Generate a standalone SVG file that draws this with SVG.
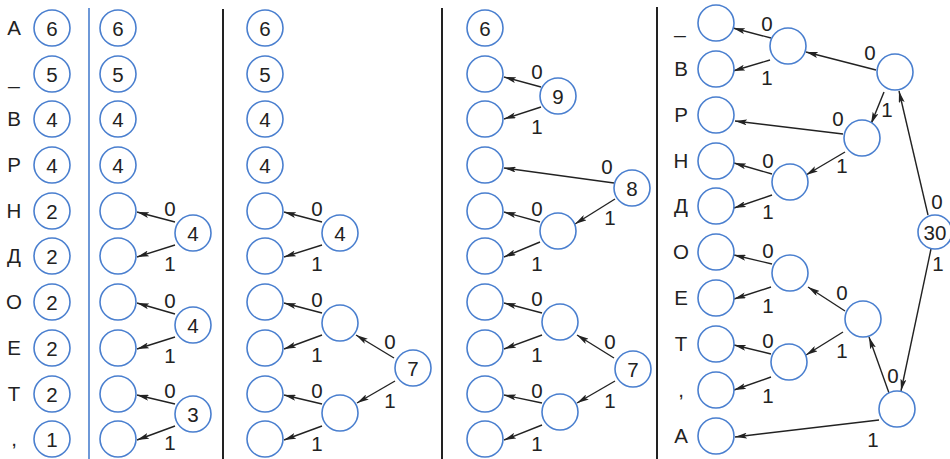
<svg xmlns="http://www.w3.org/2000/svg" width="950" height="459" viewBox="0 0 950 459">
<style>
.n{fill:#fff;stroke:#4a7fcf;stroke-width:1.6}
.t{font-family:"Liberation Sans",Arial,sans-serif;font-size:20.5px;fill:#222;text-anchor:middle}
.e{stroke:#222;stroke-width:1.4;fill:none;marker-end:url(#ah)}
.sep{stroke:#222;stroke-width:2}
</style>
<defs>
<marker id="ah" viewBox="0 0 12 6" refX="12" refY="3" markerWidth="12" markerHeight="6" markerUnits="userSpaceOnUse" orient="auto">
<path d="M0,0 L12,3 L0,6 L2.5,3 Z" fill="#222"/>
</marker>
</defs>
<rect width="950" height="459" fill="#fff"/>
<g id="separators">
<line x1="89" y1="8" x2="89" y2="459" stroke="#4a7fcf" stroke-width="1.6"/>
<line class="sep" x1="223" y1="9" x2="223" y2="459"/>
<line class="sep" x1="442" y1="8" x2="442" y2="459"/>
<line class="sep" x1="657" y1="7" x2="657" y2="459"/>
</g>
<g id="letters-1">
<text class="t" x="14" y="35">А</text>
<text class="t" x="14" y="84">_</text>
<text class="t" x="14" y="126">В</text>
<text class="t" x="14" y="172">Р</text>
<text class="t" x="14" y="218">Н</text>
<text class="t" x="14" y="263">Д</text>
<text class="t" x="14" y="309">О</text>
<text class="t" x="14" y="355">Е</text>
<text class="t" x="14" y="401">Т</text>
<text class="t" x="14" y="446">,</text>
</g>
<g id="p1">
<g id="p1-0"><circle class="n" cx="52" cy="28" r="18"/><text class="t" x="52" y="35.5">6</text></g>
<g id="p1-1"><circle class="n" cx="52" cy="74" r="18"/><text class="t" x="52" y="81.5">5</text></g>
<g id="p1-2"><circle class="n" cx="52" cy="119" r="18"/><text class="t" x="52" y="126.5">4</text></g>
<g id="p1-3"><circle class="n" cx="52" cy="165" r="18"/><text class="t" x="52" y="172.5">4</text></g>
<g id="p1-4"><circle class="n" cx="52" cy="211" r="18"/><text class="t" x="52" y="218.5">2</text></g>
<g id="p1-5"><circle class="n" cx="52" cy="256" r="18"/><text class="t" x="52" y="263.5">2</text></g>
<g id="p1-6"><circle class="n" cx="52" cy="302" r="18"/><text class="t" x="52" y="309.5">2</text></g>
<g id="p1-7"><circle class="n" cx="52" cy="348" r="18"/><text class="t" x="52" y="355.5">2</text></g>
<g id="p1-8"><circle class="n" cx="52" cy="394" r="18"/><text class="t" x="52" y="401.5">2</text></g>
<g id="p1-9"><circle class="n" cx="52" cy="439" r="18"/><text class="t" x="52" y="446.5">1</text></g>
</g>
<g id="connectors">
<line class="e" x1="175" y1="222" x2="137" y2="212"/>
<line class="e" x1="175" y1="245" x2="137" y2="257"/>
<line class="e" x1="175" y1="314" x2="137" y2="303"/>
<line class="e" x1="175" y1="337" x2="137" y2="349"/>
<line class="e" x1="175" y1="404" x2="137" y2="395"/>
<line class="e" x1="175" y1="426" x2="137" y2="440"/>
<line class="e" x1="322" y1="222" x2="284" y2="212"/>
<line class="e" x1="322" y1="245" x2="284" y2="257"/>
<line class="e" x1="322" y1="313" x2="284" y2="303"/>
<line class="e" x1="322" y1="335" x2="284" y2="349"/>
<line class="e" x1="322" y1="404" x2="284" y2="395"/>
<line class="e" x1="322" y1="426" x2="284" y2="440"/>
<line class="e" x1="394" y1="358" x2="356" y2="335"/>
<line class="e" x1="395" y1="381" x2="357" y2="403"/>
<line class="e" x1="541" y1="87" x2="504" y2="77"/>
<line class="e" x1="541" y1="107" x2="504" y2="119"/>
<line class="e" x1="614" y1="183" x2="504" y2="168"/>
<line class="e" x1="615" y1="199" x2="575" y2="224"/>
<line class="e" x1="540" y1="222" x2="504" y2="212"/>
<line class="e" x1="540" y1="242" x2="504" y2="257"/>
<line class="e" x1="542" y1="313" x2="504" y2="303"/>
<line class="e" x1="542" y1="335" x2="504" y2="349"/>
<line class="e" x1="542" y1="403" x2="504" y2="395"/>
<line class="e" x1="542" y1="425" x2="504" y2="440"/>
<line class="e" x1="614" y1="358" x2="577" y2="335"/>
<line class="e" x1="615" y1="381" x2="577" y2="403"/>
<line class="e" x1="771" y1="38" x2="733" y2="28"/>
<line class="e" x1="770" y1="60" x2="733" y2="71"/>
<line class="e" x1="876" y1="70" x2="806" y2="52"/>
<line class="e" x1="884" y1="92" x2="871" y2="124"/>
<line class="e" x1="843" y1="134" x2="735" y2="121"/>
<line class="e" x1="845" y1="152" x2="806" y2="175"/>
<line class="e" x1="772" y1="174" x2="734" y2="163"/>
<line class="e" x1="772" y1="195" x2="734" y2="208"/>
<line class="e" x1="928" y1="215" x2="899" y2="91"/>
<line class="e" x1="931" y1="249" x2="901" y2="391"/>
<line class="e" x1="772" y1="264" x2="734" y2="255"/>
<line class="e" x1="771" y1="287" x2="734" y2="299"/>
<line class="e" x1="845" y1="311" x2="808" y2="287"/>
<line class="e" x1="843" y1="332" x2="806" y2="355"/>
<line class="e" x1="771" y1="354" x2="734" y2="345"/>
<line class="e" x1="771" y1="377" x2="734" y2="390"/>
<line class="e" x1="889" y1="393" x2="869" y2="337"/>
<line class="e" x1="879" y1="420" x2="735" y2="437"/>
</g>
<g id="edge-labels">
<text class="t" x="170" y="216">0</text><text class="t" x="170" y="271">1</text>
<text class="t" x="170" y="308">0</text><text class="t" x="170" y="363">1</text>
<text class="t" x="170" y="398">0</text><text class="t" x="170" y="450">1</text>
<text class="t" x="317" y="216">0</text><text class="t" x="317" y="271">1</text>
<text class="t" x="317" y="307">0</text><text class="t" x="317" y="362">1</text>
<text class="t" x="317" y="398">0</text><text class="t" x="317" y="451">1</text>
<text class="t" x="390" y="349">0</text><text class="t" x="390" y="408">1</text>
<text class="t" x="537" y="79">0</text><text class="t" x="537" y="134">1</text>
<text class="t" x="607" y="174">0</text><text class="t" x="610" y="225">1</text>
<text class="t" x="537" y="216">0</text><text class="t" x="537" y="271">1</text>
<text class="t" x="537" y="306">0</text><text class="t" x="537" y="362">1</text>
<text class="t" x="537" y="398">0</text><text class="t" x="537" y="451">1</text>
<text class="t" x="610" y="349">0</text><text class="t" x="610" y="408">1</text>
<text class="t" x="767" y="31">0</text><text class="t" x="767" y="85">1</text>
<text class="t" x="870" y="60">0</text><text class="t" x="887" y="117">1</text>
<text class="t" x="838" y="126">0</text><text class="t" x="842" y="173">1</text>
<text class="t" x="768" y="168">0</text><text class="t" x="768" y="219">1</text>
<text class="t" x="937" y="209">0</text><text class="t" x="938" y="271">1</text>
<text class="t" x="768" y="258">0</text><text class="t" x="768" y="313">1</text>
<text class="t" x="842" y="300">0</text><text class="t" x="842" y="358">1</text>
<text class="t" x="768" y="348">0</text><text class="t" x="768" y="403">1</text>
<text class="t" x="893" y="383">0</text><text class="t" x="873" y="447">1</text>
</g>
<g id="p2">
<g id="p2-0"><circle class="n" cx="118" cy="28" r="18"/><text class="t" x="118" y="35.5">6</text></g>
<g id="p2-1"><circle class="n" cx="118" cy="74" r="18"/><text class="t" x="118" y="81.5">5</text></g>
<g id="p2-2"><circle class="n" cx="118" cy="119" r="18"/><text class="t" x="118" y="126.5">4</text></g>
<g id="p2-3"><circle class="n" cx="118" cy="165" r="18"/><text class="t" x="118" y="172.5">4</text></g>
<g id="p2-4"><circle class="n" cx="118" cy="211" r="18"/></g>
<g id="p2-5"><circle class="n" cx="118" cy="256" r="18"/></g>
<g id="p2-6"><circle class="n" cx="118" cy="302" r="18"/></g>
<g id="p2-7"><circle class="n" cx="118" cy="348" r="18"/></g>
<g id="p2-8"><circle class="n" cx="118" cy="394" r="18"/></g>
<g id="p2-9"><circle class="n" cx="118" cy="439" r="18"/></g>
<g id="p2-a"><circle class="n" cx="193" cy="233" r="18"/><text class="t" x="193" y="240.5">4</text></g>
<g id="p2-b"><circle class="n" cx="193" cy="325" r="18"/><text class="t" x="193" y="332.5">4</text></g>
<g id="p2-c"><circle class="n" cx="193" cy="414" r="18"/><text class="t" x="193" y="421.5">3</text></g>
</g>
<g id="p3">
<g id="p3-0"><circle class="n" cx="265" cy="28" r="18"/><text class="t" x="265" y="35.5">6</text></g>
<g id="p3-1"><circle class="n" cx="265" cy="74" r="18"/><text class="t" x="265" y="81.5">5</text></g>
<g id="p3-2"><circle class="n" cx="265" cy="119" r="18"/><text class="t" x="265" y="126.5">4</text></g>
<g id="p3-3"><circle class="n" cx="265" cy="165" r="18"/><text class="t" x="265" y="172.5">4</text></g>
<g id="p3-4"><circle class="n" cx="265" cy="211" r="18"/></g>
<g id="p3-5"><circle class="n" cx="265" cy="256" r="18"/></g>
<g id="p3-6"><circle class="n" cx="265" cy="302" r="18"/></g>
<g id="p3-7"><circle class="n" cx="265" cy="348" r="18"/></g>
<g id="p3-8"><circle class="n" cx="265" cy="394" r="18"/></g>
<g id="p3-9"><circle class="n" cx="265" cy="439" r="18"/></g>
<g id="p3-a"><circle class="n" cx="340" cy="233" r="18"/><text class="t" x="340" y="240.5">4</text></g>
<g id="p3-b"><circle class="n" cx="340" cy="323" r="18"/></g>
<g id="p3-c"><circle class="n" cx="340" cy="413" r="18"/></g>
<g id="p3-d"><circle class="n" cx="413" cy="368" r="18"/><text class="t" x="413" y="375.5">7</text></g>
</g>
<g id="p4">
<g id="p4-0"><circle class="n" cx="485" cy="28" r="18"/><text class="t" x="485" y="35.5">6</text></g>
<g id="p4-1"><circle class="n" cx="485" cy="74" r="18"/></g>
<g id="p4-2"><circle class="n" cx="485" cy="119" r="18"/></g>
<g id="p4-3"><circle class="n" cx="485" cy="165" r="18"/></g>
<g id="p4-4"><circle class="n" cx="485" cy="211" r="18"/></g>
<g id="p4-5"><circle class="n" cx="485" cy="256" r="18"/></g>
<g id="p4-6"><circle class="n" cx="485" cy="302" r="18"/></g>
<g id="p4-7"><circle class="n" cx="485" cy="348" r="18"/></g>
<g id="p4-8"><circle class="n" cx="485" cy="394" r="18"/></g>
<g id="p4-9"><circle class="n" cx="485" cy="439" r="18"/></g>
<g id="p4-a"><circle class="n" cx="558" cy="96" r="18"/><text class="t" x="558" y="103.5">9</text></g>
<g id="p4-b"><circle class="n" cx="632" cy="188" r="18"/><text class="t" x="632" y="195.5">8</text></g>
<g id="p4-c"><circle class="n" cx="558" cy="231" r="18"/></g>
<g id="p4-d"><circle class="n" cx="560" cy="322" r="18"/></g>
<g id="p4-e"><circle class="n" cx="560" cy="412" r="18"/></g>
<g id="p4-f"><circle class="n" cx="633" cy="369" r="18"/><text class="t" x="633" y="376.5">7</text></g>
</g>
<g id="letters-5">
<text class="t" x="680" y="33">_</text>
<text class="t" x="681" y="76">В</text>
<text class="t" x="681" y="122">Р</text>
<text class="t" x="681" y="168">Н</text>
<text class="t" x="681" y="213">Д</text>
<text class="t" x="681" y="259">О</text>
<text class="t" x="681" y="305">Е</text>
<text class="t" x="681" y="351">Т</text>
<text class="t" x="681" y="397">,</text>
<text class="t" x="681" y="443">А</text>
</g>
<g id="p5">
<g id="p5-0"><circle class="n" cx="716" cy="23" r="18"/></g>
<g id="p5-1"><circle class="n" cx="716" cy="69" r="18"/></g>
<g id="p5-2"><circle class="n" cx="716" cy="115" r="18"/></g>
<g id="p5-3"><circle class="n" cx="716" cy="161" r="18"/></g>
<g id="p5-4"><circle class="n" cx="716" cy="206" r="18"/></g>
<g id="p5-5"><circle class="n" cx="716" cy="252" r="18"/></g>
<g id="p5-6"><circle class="n" cx="716" cy="298" r="18"/></g>
<g id="p5-7"><circle class="n" cx="716" cy="344" r="18"/></g>
<g id="p5-8"><circle class="n" cx="716" cy="390" r="18"/></g>
<g id="p5-9"><circle class="n" cx="716" cy="436" r="18"/></g>
<g id="p5-n1"><circle class="n" cx="788" cy="46" r="18"/></g>
<g id="p5-n2"><circle class="n" cx="895" cy="72" r="18"/></g>
<g id="p5-n3"><circle class="n" cx="862" cy="138" r="18"/></g>
<g id="p5-n4"><circle class="n" cx="790" cy="182" r="18"/></g>
<g id="p5-root"><circle class="n" cx="935" cy="232" r="17"/><text class="t" x="935" y="239.5">30</text></g>
<g id="p5-n5"><circle class="n" cx="790" cy="273" r="18"/></g>
<g id="p5-n6"><circle class="n" cx="863" cy="319" r="18"/></g>
<g id="p5-n7"><circle class="n" cx="789" cy="362" r="18"/></g>
<g id="p5-n8"><circle class="n" cx="897" cy="409" r="18"/></g>
</g>
</svg>
